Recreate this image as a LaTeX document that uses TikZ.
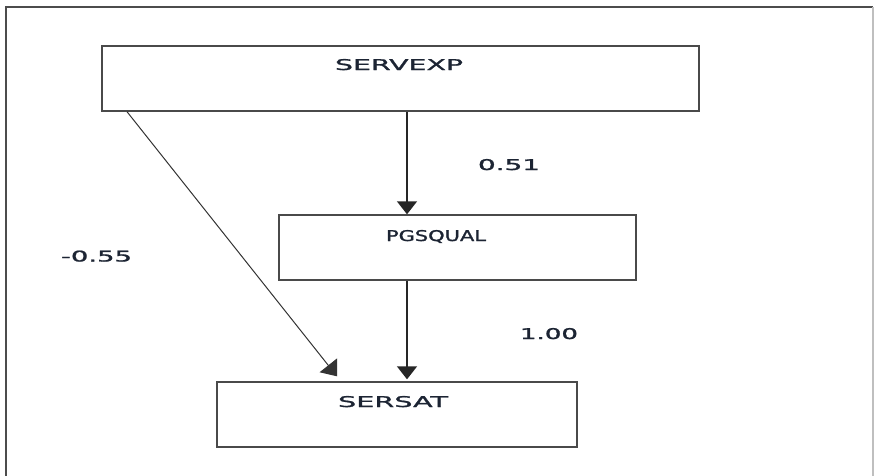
\documentclass[tikz,border=0pt]{standalone}
\usepackage{fontspec}
\usepackage{graphicx}
\setmainfont{DejaVu Sans}
\newfontfamily\lblfont[FakeBold=1.2]{DejaVu Sans}
\usetikzlibrary{arrows.meta}
\definecolor{ink}{HTML}{1C2433}
\definecolor{edge}{HTML}{4A4A4A}
% wide label: text stretched to a given width and cap height
\newcommand{\widelbl}[2]{\resizebox{#1pt}{11pt}{\lblfont #2}}
\tikzset{
  box/.style={draw=edge, line width=1.4pt, rectangle, minimum height=65pt, inner sep=0pt},
  lbl/.style={anchor=base, inner sep=0pt, text=ink},
  arr/.style={line width=1.4pt, draw=black!85, -{Triangle[length=13pt,width=20pt]}},
  darr/.style={line width=1pt, draw=black!80, -{Triangle[length=14pt,width=22pt]}}
}
\begin{document}
\begin{tikzpicture}[x=1pt, y=-1pt]
  \useasboundingbox (0,0) rectangle (874,475);
  % outer frame
  \draw[line width=1.6pt, draw=black!70] (6,480) -- (6,7) -- (873,7);
  \draw[line width=1.2pt, draw=black!25] (873,7) -- (873,480);
  % boxes
  \node[box, minimum width=597pt] (servexp) at (400.5,78.5) {};
  \node[box, minimum width=357pt] (pgsqual) at (457.5,247.5) {};
  \node[box, minimum width=360pt] (sersat) at (397,414.5) {};
  % box texts
  \node[lbl] (tservexp) at (399,70) {\widelbl{128}{SERVEXP}};
  \node[lbl] (tpgsqual) at (436,241) {\widelbl{100}{PGSQUAL}};
  \node[lbl] (tsersat) at (393,407) {\widelbl{110}{SERSAT}};
  % path coefficients
  \node[lbl] (c1) at (509,170) {\widelbl{62}{0.51}};
  \node[lbl] (c2) at (96.5,261.5) {\widelbl{71}{-0.55}};
  \node[lbl] (c3) at (549,339) {\widelbl{58}{1.00}};
  % connectors
  \draw[arr] (servexp.south -| 407,0) -- (pgsqual.north -| 407,0);
  \draw[arr] (pgsqual.south -| 407,0) -- ([yshift=2pt]sersat.north -| 407,0);
  \draw[darr] (servexp.south -| 127,0) -- ([yshift=5pt]sersat.north -| 337,0);
\end{tikzpicture}
\end{document}
